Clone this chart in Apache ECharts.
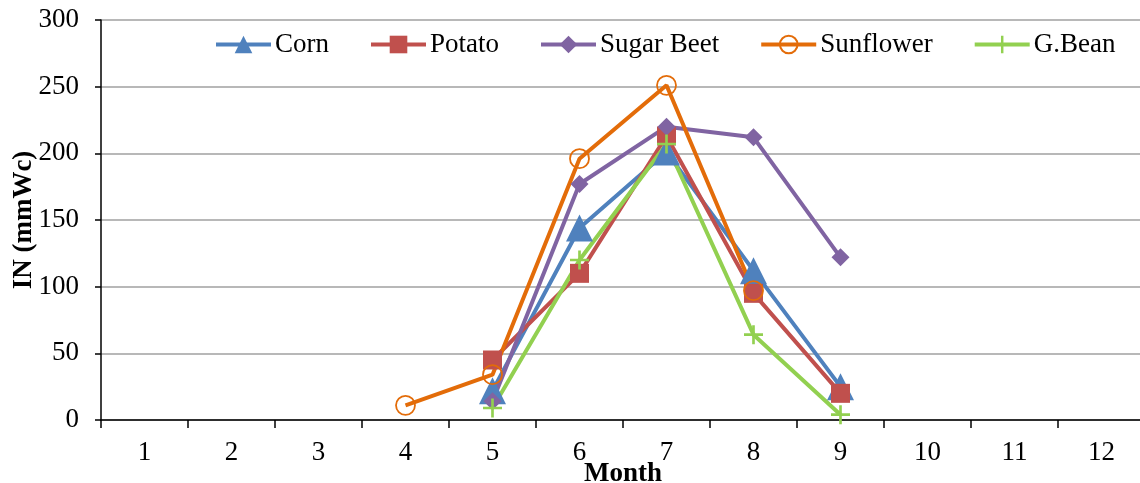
<!DOCTYPE html>
<html><head><meta charset="utf-8">
<script src="https://cdn.jsdelivr.net/npm/echarts@6/dist/echarts.min.js"></script>
<style>html,body{margin:0;padding:0;background:#fff}#c{width:1140px;height:483px}</style>
</head><body><div id="c"></div>
<script>
const months = ['1','2','3','4','5','6','7','8','9','10','11','12'];
const corn      = [null,null,null,null,22,144,201,112,25,null,null,null];
const potato    = [null,null,null,null,45,110,213,95,20,null,null,null];
const sugarBeet = [null,null,null,null,14,177,220,212,122,null,null,null];
const sunflower = [null,null,null,11,34,196,251,97,null,null,null,null];
const gBean     = [null,null,null,null,9,120,207,64,4,null,null,null];
const yTicks = [0,50,100,150,200,250,300];

const FONT = 'Liberation Serif';
const FS = 27;
const plus = 'path://M4.3,0h1.4v4.3h4.3v1.4h-4.3v4.3h-1.4v-4.3h-4.3v-1.4h4.3z';
function s(name, data, color, symbol, size, extra) {
  return Object.assign({
    name, type:'line', data, symbol, symbolSize:size, connectNulls:false,
    lineStyle:{color, width:4}, itemStyle:{color}, showAllSymbol:true, z:2
  }, extra||{});
}
const chart = echarts.init(document.getElementById('c'), null, {renderer:'canvas'});
chart.setOption({
  animation:false,
  textStyle:{fontFamily:FONT},
  grid:{left:101, right:-5, top:20, bottom:63, containLabel:false, outerBoundsMode:'none'},
  legend:{
    left:214, top:31, padding:0, itemWidth:55, itemHeight:22, itemGap:40,
    lineStyle:{width:4},
    textStyle:{fontFamily:FONT, fontSize:FS, color:'#000', padding:[0,0,0,-1]},
    data:['Corn','Potato','Sugar Beet','Sunflower','G.Bean']
  },
  xAxis:{
    type:'category', data:months, boundaryGap:true,
    name:'Month', nameLocation:'middle', nameGap:41, nameMoveOverlap:false,
    nameTextStyle:{fontFamily:FONT, fontSize:FS, fontWeight:'bold', color:'#000'},
    axisLine:{lineStyle:{color:'#000', width:1.5}},
    axisTick:{show:true, length:8, alignWithLabel:false, lineStyle:{color:'#000', width:1.5}},
    axisLabel:{fontFamily:FONT, fontSize:FS, color:'#000', margin:19},
    splitLine:{show:false}
  },
  yAxis:{
    type:'value', min:0, max:300, interval:50,
    name:'IN (mmWc)', nameLocation:'middle', nameGap:63, nameRotate:90, nameMoveOverlap:false,
    nameTextStyle:{fontFamily:FONT, fontSize:FS, fontWeight:'bold', color:'#000'},
    axisLine:{show:true, lineStyle:{color:'#000', width:1.5}},
    axisTick:{show:true, length:6, lineStyle:{color:'#000', width:1.5}},
    axisLabel:{fontFamily:FONT, fontSize:FS, color:'#000', margin:22,
      formatter:v => yTicks.includes(v) ? String(v) : ''},
    splitLine:{show:true, lineStyle:{color:'#a0a0a0', width:1.6}}
  },
  series:[
    s('Corn', corn, '#4f81bd', 'triangle', [27,27]),
    s('Potato', potato, '#c0504d', 'rect', 19),
    s('Sugar Beet', sugarBeet, '#8064a2', 'diamond', 18),
    s('Sunflower', sunflower, '#e36c09', 'circle', 19,
      {itemStyle:{color:'rgba(255,255,255,0)', borderColor:'#e36c09', borderWidth:1.8}}),
    s('G.Bean', gBean, '#92d050', plus, 19)
  ]
});
</script></body></html>
